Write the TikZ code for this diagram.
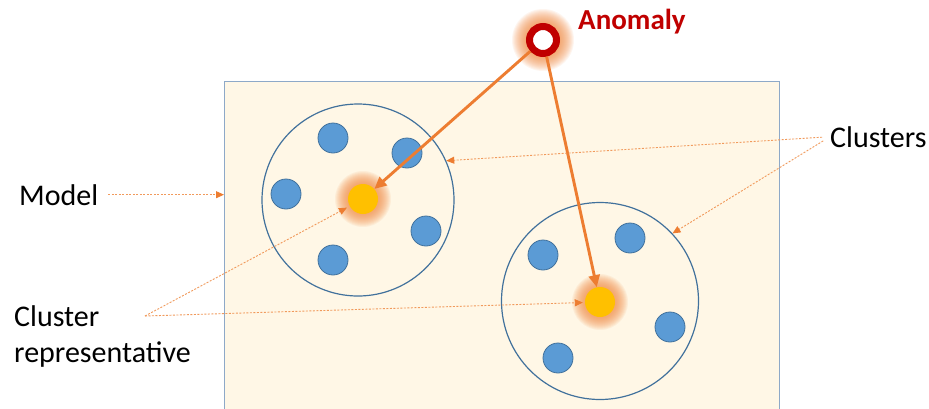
\documentclass[tikz,border=0pt]{standalone}
\usepackage{fontspec}
\setmainfont{Carlito}
\usetikzlibrary{arrows.meta,calc}
\definecolor{boxfill}{HTML}{FFF7E6}
\definecolor{boxline}{HTML}{8EA9C8}
\definecolor{ringblue}{HTML}{41719C}
\definecolor{dotblue}{HTML}{5B9BD5}
\definecolor{gold}{HTML}{FFC000}
\definecolor{arrorange}{HTML}{ED7D31}
\definecolor{hintorange}{HTML}{F19A5C}
\definecolor{glowc}{HTML}{F4904A}
\definecolor{anomred}{HTML}{C00000}
\begin{document}
\begin{tikzpicture}[x=1pt,y=-1pt,
  member/.style={circle,fill=dotblue,draw=ringblue,line width=0.8pt,minimum size=30,inner sep=0},
  cluster/.style={circle,draw=ringblue,line width=1.2pt,inner sep=0},
  rep/.style={circle,fill=gold,minimum size=30,inner sep=0},
  label/.style={font=\fontsize{30}{36}\selectfont,inner sep=0,text=black},
  hint/.style={draw=hintorange,line width=0.9pt,dash pattern=on 2pt off 1.5pt,
    -{Triangle[length=8pt,width=7pt,fill=arrorange,color=arrorange]}},
  link/.style={draw=arrorange,line width=2.9pt,-{Triangle[length=12pt,width=11pt]}},
]
\useasboundingbox (0,0) rectangle (929,408);
\clip (0,0) rectangle (929,408);
\fill[white] (0,0) rectangle (929,408);

% model box
\node[draw=boxline,fill=boxfill,line width=1pt,minimum width=555,minimum height=349,
  inner sep=0,anchor=north west] (box) at (224,81) {};

% clusters
\node[cluster,minimum size=192] (c1) at (358,200) {};
\node[cluster,minimum size=197] (c2) at (600,301) {};

% glows
\coordinate (g1) at (363,199);
\coordinate (g2) at (600,302);
\coordinate (ga) at (543,40);
\foreach \r in {28,27,...,14}{
  \fill[glowc,opacity=0.095] (g1) circle (\r pt);
  \fill[glowc,opacity=0.095] (g2) circle (\r pt);
}
\foreach \r in {31,30,...,14}{
  \fill[glowc,opacity=0.085] (ga) circle (\r pt);
}

% members of cluster 1
\node[member] (a1) at (333,138) {};
\node[member] (a2) at (407,153) {};
\node[member] (a3) at (286,194) {};
\node[member] (a4) at (426,231) {};
\node[member] (a5) at (333,260) {};
\node[rep] (y1) at (g1) {};

% members of cluster 2
\node[member] (b1) at (543,255) {};
\node[member] (b2) at (630,238) {};
\node[member] (b3) at (670,327) {};
\node[member] (b4) at (558,358) {};
\node[rep] (y2) at (g2) {};

% anomaly
\node[circle,draw=anomred,line width=7pt,fill=white,minimum size=27,inner sep=0] (anom) at (ga) {};
\node[font=\bfseries\fontsize{29}{32}\selectfont,text=anomred,anchor=base west,inner sep=0]
  (anomlabel) at (578,29) {Anomaly};

% labels
\node[label,anchor=base west] (model) at (19,205) {Model};
\node[label,anchor=base west] (clusters) at (830,147) {Clusters};
\node[label,anchor=north west,align=left] (crlabel) at (14,305) {Cluster\\representative};
\coordinate (crs) at (145,316);

% solid arrows from the anomaly
\draw[link] (anom) -- (y1);
\draw[link] (anom) -- (y2);

% dotted pointers
\draw[hint,shorten <=10pt] (model.east) -- (box.west |- model.east);
\draw[hint,shorten >=3pt] (crs) -- (y1);
\draw[hint,shorten >=2pt] (crs) -- (y2);
\draw[hint,shorten <=8pt] (clusters.west) -- (c1.24);
\draw[hint,shorten <=8pt] (clusters.west) -- (c2.43);
\end{tikzpicture}
\end{document}
